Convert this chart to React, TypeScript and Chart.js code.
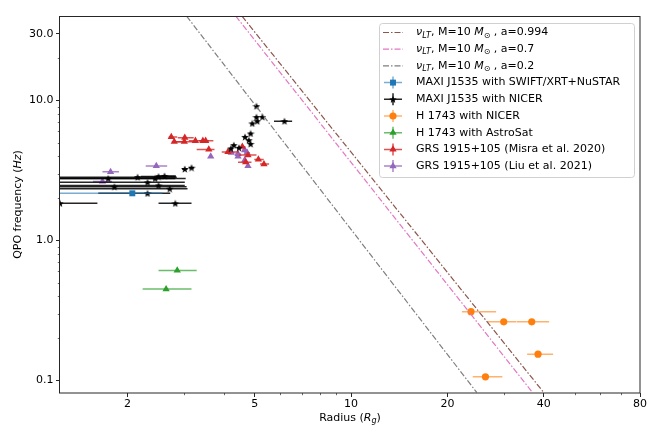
import { useEffect, useRef } from "react";
import { Chart, registerables } from "chart.js";
import type { Plugin } from "chart.js";
import { drawPoint } from "chart.js/helpers";

Chart.register(...registerables);

const FONT = '"DejaVu Sans", sans-serif';

// Lense-Thirring model lines (ends of each dash-dot line)
const ltF = [40, 0.082];
const ltR994 = [4.56, 40.0];
const ltR07 = [4.36, 36.9];
const ltR02 = [3.06, 24.7];
const spinLabels = ["0.994", "0.7", "0.2"];

const xTicks = [2, 5, 10, 20, 40, 80];
const xMinor = [3, 4, 6, 7, 8, 9, 30, 50, 60, 70];
const yTicks = [0.1, 1, 10, 30];
const yTickLabels = ["0.1", "1.0", "10.0", "30.0"];
const yMinor = [0.2, 0.3, 0.4, 0.5, 0.6, 0.7, 0.8, 0.9, 2, 3, 4, 5, 6, 7, 8, 9, 20];

// MAXI J1535 with SWIFT/XRT+NuSTAR
const swiftR = [2.07];
const swiftF = [2.17];
const swiftRLo = [1.0];
const swiftRHi = [0.5];
const swiftFErr = [0.04];

// MAXI J1535 with NICER
const nicerR = [5.06, 5.06, 5.28, 5.09, 6.19, 4.91, 4.85, 4.66, 4.79, 4.85, 4.3, 4.21, 4.46, 3.02, 3.17,
  1.74, 2.15, 2.44, 2.5, 2.61, 1.82, 2.31, 2.5, 2.71, 2.31, 1.23, 2.82];
const nicerF = [9.1, 7.6, 7.63, 7.11, 7.11, 6.85, 5.81, 5.49, 5.2, 4.89, 4.79, 4.54, 4.59, 3.24, 3.31,
  2.77, 2.83, 2.77, 2.86, 2.89, 2.42, 2.6, 2.47, 2.34, 2.17, 1.84, 1.84];
const nicerRLo = [0.06, 0.06, 0.06, 0.06, 0.45, 0.05, 0.05, 0.05, 0.05, 0.05, 0.05, 0.05, 0.05, 0.06, 0.06,
  1.0, 1.2, 1.5, 0.3, 0.15, 1.0, 1.3, 1.5, 1.7, 0.69, 0.5, 0.32];
const nicerRHi = [0.06, 0.06, 0.06, 0.06, 0.35, 0.05, 0.05, 0.05, 0.05, 0.05, 0.05, 0.05, 0.05, 0.06, 0.06,
  1.08, 0.7, 0.6, 0.33, 0.22, 1.24, 0.71, 0.52, 0.37, 0.41, 0.38, 0.35];
const nicerFErr = [0.1, 0.08, 0.08, 0.08, 0.08, 0.07, 0.06, 0.06, 0.05, 0.05, 0.05, 0.05, 0.05, 0.04, 0.04,
  0.03, 0.03, 0.03, 0.03, 0.03, 0.03, 0.03, 0.03, 0.03, 0.03, 0.03, 0.03];

// H 1743 with NICER
const h1743nR = [23.7, 30.0, 36.7, 38.4, 26.3];
const h1743nF = [0.31, 0.262, 0.262, 0.154, 0.106];
const h1743nRLo = [1.5, 3.3, 3.8, 2.9, 2.3];
const h1743nRHi = [4.7, 2.8, 4.9, 4.4, 3.4];
const h1743nFErr = [0.004, 0.004, 0.004, 0.003, 0.002];

// H 1743 with AstroSat
const h1743aR = [2.86, 2.64];
const h1743aF = [0.61, 0.449];
const h1743aRLo = [0.36, 0.41];
const h1743aRHi = [0.43, 0.53];
const h1743aFErr = [0.01, 0.01];

// GRS 1915+105 (Misra et al. 2020)
const misraR = [2.74, 2.8, 3.02, 3.01, 3.26, 3.44, 3.51, 3.59, 4.12, 4.57, 4.76, 5.13, 5.34, 4.68];
const misraF = [5.49, 5.07, 5.42, 5.07, 5.15, 5.15, 5.15, 4.47, 4.29, 4.67, 4.07, 3.79, 3.51, 3.62];
const misraRLo = [0.05, 0.05, 0.15, 0.2, 0.15, 0.1, 0.1, 0.3, 0.18, 0.1, 0.3, 0.15, 0.15, 0.25];
const misraRHi = [0.12, 0.2, 0.2, 0.2, 0.2, 0.15, 0.2, 0.15, 0.34, 0.1, 0.3, 0.2, 0.2, 0.2];
const misraFErr = [0.08, 0.08, 0.08, 0.08, 0.08, 0.08, 0.08, 0.07, 0.07, 0.07, 0.07, 0.06, 0.06, 0.06];

// GRS 1915+105 (Liu et al. 2021)
const liuR = [1.77, 2.46, 1.67, 3.64, 4.22, 4.43, 4.65, 4.73, 4.43, 4.65, 4.76];
const liuF = [3.09, 3.4, 2.64, 3.98, 4.23, 4.15, 4.42, 4.23, 3.98, 3.75, 3.4];
const liuRLo = [0.1, 0.18, 0.11, 0.02, 0.1, 0.1, 0.1, 0.1, 0.05, 0.05, 0.05];
const liuRHi = [0.11, 0.2, 0.12, 0.02, 0.1, 0.1, 0.1, 0.1, 0.05, 0.05, 0.05];
const liuFErr = [0.03, 0.03, 0.03, 0.03, 0.03, 0.03, 0.03, 0.03, 0.03, 0.03, 0.03];

const seriesNames = [
  "MAXI J1535 with SWIFT/XRT+NuSTAR",
  "MAXI J1535 with NICER",
  "H 1743 with NICER",
  "H 1743 with AstroSat",
  "GRS 1915+105 (Misra et al. 2020)",
  "GRS 1915+105 (Liu et al. 2021)",
];

const lineColors = ["#8c564b", "#e377c2", "#7f7f7f"];
const DASH = [6, 2, 1.5, 2];

function withAlpha(hex: string, a: number) {
  const n = parseInt(hex.slice(1), 16);
  return `rgba(${(n >> 16) & 255},${(n >> 8) & 255},${n & 255},${a})`;
}

function makeStar(size: number, color: string) {
  const c = document.createElement("canvas");
  c.width = size;
  c.height = size;
  const ctx = c.getContext("2d")!;
  const cx = size / 2, cy = size / 2 + 0.4, ro = size / 2, ri = ro * 0.42;
  ctx.fillStyle = color;
  ctx.beginPath();
  for (let k = 0; k < 10; k++) {
    const a = -Math.PI / 2 + (k * Math.PI) / 5;
    const rr = k % 2 ? ri : ro;
    ctx.lineTo(cx + rr * Math.cos(a), cy + rr * Math.sin(a));
  }
  ctx.closePath();
  ctx.fill();
  return c;
}

type Part = { t: string; i?: boolean; sub?: boolean };

function partFont(p: Part) {
  return `${p.i ? "italic " : ""}${p.sub ? 8 : 11}px ${FONT}`;
}

function richWidth(ctx: CanvasRenderingContext2D, parts: Part[]) {
  let w = 0;
  for (const p of parts) {
    ctx.font = partFont(p);
    w += ctx.measureText(p.t).width;
  }
  return w;
}

function drawRich(ctx: CanvasRenderingContext2D, parts: Part[], x: number, y: number) {
  ctx.textBaseline = "middle";
  ctx.textAlign = "left";
  for (const p of parts) {
    ctx.font = partFont(p);
    ctx.fillText(p.t, x, y + (p.sub ? 3 : 0));
    x += ctx.measureText(p.t).width;
  }
}

const errorBars: Plugin = {
  id: "errorBars",
  beforeDatasetDraw(chart, args) {
    const ds: any = chart.data.datasets[args.index];
    if (!ds.errs) return;
    const { ctx, chartArea, scales } = chart;
    const e = ds.errs;
    ctx.save();
    ctx.beginPath();
    ctx.rect(chartArea.left, chartArea.top, chartArea.right - chartArea.left, chartArea.bottom - chartArea.top);
    ctx.clip();
    ctx.strokeStyle = e.color;
    ctx.lineWidth = 1.5;
    ds.data.forEach((p: { x: number; y: number }, i: number) => {
      const y = scales.y.getPixelForValue(p.y);
      const x = scales.x.getPixelForValue(p.x);
      ctx.beginPath();
      ctx.moveTo(scales.x.getPixelForValue(p.x - e.lo[i]), y);
      ctx.lineTo(scales.x.getPixelForValue(p.x + e.hi[i]), y);
      ctx.moveTo(x, scales.y.getPixelForValue(p.y - e.f[i]));
      ctx.lineTo(x, scales.y.getPixelForValue(p.y + e.f[i]));
      ctx.stroke();
    });
    ctx.restore();
  },
};

const decorations: Plugin = {
  id: "decorations",
  afterDraw(chart) {
    const { ctx, chartArea: a, scales } = chart;
    ctx.save();
    // frame
    ctx.strokeStyle = "#262626";
    ctx.lineWidth = 1;
    ctx.strokeRect(Math.round(a.left) - 0.5, Math.round(a.top) + 0.5, Math.round(a.right - a.left) + 0.5, Math.round(a.bottom - a.top) - 0.5);
    // minor ticks
    ctx.lineWidth = 0.7;
    ctx.beginPath();
    for (const v of xMinor) {
      const x = Math.round(scales.x.getPixelForValue(v)) + 0.5;
      ctx.moveTo(x, a.bottom);
      ctx.lineTo(x, a.bottom + 2.2);
    }
    for (const v of yMinor) {
      const y = Math.round(scales.y.getPixelForValue(v)) + 0.5;
      ctx.moveTo(a.left, y);
      ctx.lineTo(a.left - 2.2, y);
    }
    ctx.stroke();

    // axis titles
    ctx.fillStyle = "#000";
    const xt: Part[] = [{ t: "Radius (" }, { t: "R", i: true }, { t: "g", i: true, sub: true }, { t: ")" }];
    drawRich(ctx, xt, (a.left + a.right) / 2 - richWidth(ctx, xt) / 2, a.bottom + 25);
    const yt: Part[] = [{ t: "QPO frequency (" }, { t: "Hz", i: true }, { t: ")" }];
    ctx.save();
    ctx.translate(18, (a.top + a.bottom) / 2);
    ctx.rotate(-Math.PI / 2);
    drawRich(ctx, yt, -richWidth(ctx, yt) / 2, 0);
    ctx.restore();

    // legend
    const w = 255, h = 154;
    const x0 = a.right - 6 - w, y0 = a.top + 7;
    ctx.fillStyle = "rgba(255,255,255,0.85)";
    ctx.strokeStyle = "#d0d0d0";
    ctx.lineWidth = 1;
    ctx.beginPath();
    ctx.roundRect(x0 + 0.5, y0 + 0.5, w, h, 3);
    ctx.fill();
    ctx.stroke();
    const rowY = (i: number) => y0 + 9.5 + i * 16.7;
    const hx0 = x0 + 4, hx1 = x0 + 24, hcx = x0 + 14, tx = x0 + 37;
    spinLabels.forEach((s, i) => {
      const y = rowY(i);
      ctx.strokeStyle = lineColors[i];
      ctx.lineWidth = 1.2;
      ctx.setLineDash(DASH);
      ctx.beginPath();
      ctx.moveTo(hx0, y);
      ctx.lineTo(hx1, y);
      ctx.stroke();
      ctx.setLineDash([]);
      ctx.fillStyle = "#000";
      drawRich(ctx, [
        { t: "ν", i: true }, { t: "LT", i: true, sub: true }, { t: ", M=10 " },
        { t: "M", i: true }, { t: "⊙", sub: true }, { t: " , a=" + s },
      ], tx, y);
    });
    const pts = chart.data.datasets.slice(3) as any[];
    pts.forEach((ds, k) => {
      const y = rowY(k + 3);
      ctx.strokeStyle = ds.errs.color;
      ctx.lineWidth = 1.5;
      ctx.beginPath();
      ctx.moveTo(hx0 + 1, y);
      ctx.lineTo(hx1 - 1, y);
      ctx.moveTo(hcx, y - 6);
      ctx.lineTo(hcx, y + 6);
      ctx.stroke();
      ctx.fillStyle = ds.backgroundColor;
      ctx.strokeStyle = ds.backgroundColor;
      drawPoint(ctx, { pointStyle: ds.pointStyle, radius: ds.pointRadius, rotation: 0, borderWidth: 0 }, hcx, y);
      ctx.fillStyle = "#000";
      drawRich(ctx, [{ t: seriesNames[k] }], tx, y);
    });
    ctx.restore();
  },
};

function pts(r: number[], f: number[]) {
  return r.map((v, i) => ({ x: v, y: f[i] }));
}

export default function App() {
  const ref = useRef<HTMLCanvasElement | null>(null);

  useEffect(() => {
    document.body.style.margin = "0";
    if (!ref.current) return;

    const lineSet = (r: number[], i: number) => ({
      data: pts(r, ltF),
      showLine: true,
      borderColor: lineColors[i],
      borderWidth: 1.2,
      borderDash: DASH,
      pointRadius: 0,
    });
    const pointSet = (r: number[], f: number[], lo: number[], hi: number[], fe: number[], color: string, style: any, radius: number, alpha: number) => ({
      data: pts(r, f),
      backgroundColor: color,
      borderColor: color,
      borderWidth: 0,
      pointStyle: style,
      pointRadius: radius,
      errs: { lo, hi, f: fe, color: withAlpha(color, alpha) },
    });

    const chart = new Chart(ref.current, {
      type: "scatter",
      data: {
        datasets: [
          lineSet(ltR994, 0),
          lineSet(ltR07, 1),
          lineSet(ltR02, 2),
          pointSet(swiftR, swiftF, swiftRLo, swiftRHi, swiftFErr, "#1f77b4", "rect", 4.2, 0.6),
          pointSet(nicerR, nicerF, nicerRLo, nicerRHi, nicerFErr, "#000000", makeStar(8, "#000000"), 4, 0.85),
          pointSet(h1743nR, h1743nF, h1743nRLo, h1743nRHi, h1743nFErr, "#ff7f0e", "circle", 3.6, 0.6),
          pointSet(h1743aR, h1743aF, h1743aRLo, h1743aRHi, h1743aFErr, "#2ca02c", "triangle", 4.2, 0.7),
          pointSet(misraR, misraF, misraRLo, misraRHi, misraFErr, "#d62728", "triangle", 4.2, 0.8),
          pointSet(liuR, liuF, liuRLo, liuRHi, liuFErr, "#9467bd", "triangle", 4.2, 0.8),
        ] as any,
      },
      options: {
        animation: false,
        responsive: false,
        devicePixelRatio: 1,
        events: [],
        layout: { padding: { left: 0, right: 20, top: 16, bottom: 0 } },
        plugins: { legend: { display: false }, tooltip: { enabled: false } },
        scales: {
          x: {
            type: "logarithmic",
            min: 1.23,
            max: 80,
            afterBuildTicks: (s: any) => {
              s.ticks = xTicks.map((v) => ({ value: v }));
            },
            afterFit: (s: any) => {
              s.height = 47;
            },
            ticks: {
              callback: (v: any) => String(v),
              autoSkip: false,
              maxRotation: 0,
              padding: 1,
              color: "#000",
              font: { family: FONT, size: 11 },
            },
            grid: { drawOnChartArea: false, drawTicks: true, tickLength: 4, color: "#262626", tickColor: "#262626", lineWidth: 1 },
            border: { display: false },
          },
          y: {
            type: "logarithmic",
            min: 0.0813,
            max: 40.1,
            afterBuildTicks: (s: any) => {
              s.ticks = yTicks.map((v) => ({ value: v }));
            },
            afterFit: (s: any) => {
              s.width = 60;
            },
            ticks: {
              callback: (_v: any, i: number) => yTickLabels[i],
              autoSkip: false,
              padding: 2.5,
              color: "#000",
              font: { family: FONT, size: 11 },
            },
            grid: { drawOnChartArea: false, drawTicks: true, tickLength: 4, color: "#262626", tickColor: "#262626", lineWidth: 1 },
            border: { display: false },
          },
        },
      },
      plugins: [errorBars, decorations],
    });

    return () => {
      chart.destroy();
    };
  }, []);

  return <canvas ref={ref} width={660} height={440} style={{ display: "block" }} />;
}
